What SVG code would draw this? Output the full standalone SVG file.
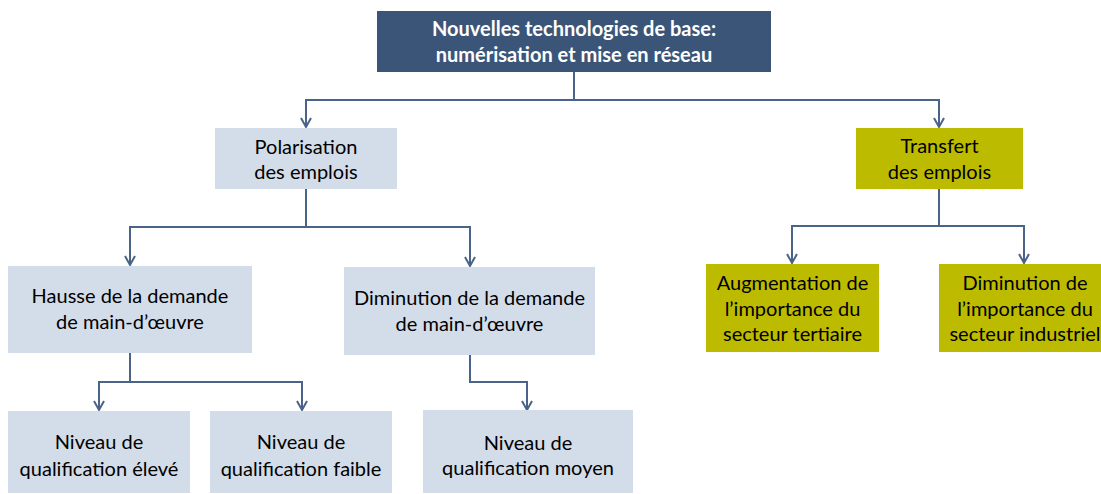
<svg xmlns="http://www.w3.org/2000/svg" width="1101" height="494" viewBox="0 0 1101 494">
<defs>
<style>
.t{font-family:Lato,"Liberation Sans",sans-serif;font-size:20px;fill:#000;text-anchor:middle}
.tb{font-family:Lato,"Liberation Sans",sans-serif;font-size:20px;font-weight:bold;fill:#fff;text-anchor:middle}
.dark{fill:#3B5579}
.light{fill:#D3DCE9}
.olive{fill:#BDBB00}
.c{fill:none;stroke:#4A6388;stroke-width:2;marker-end:url(#arr)}
</style>
<marker id="arr" markerUnits="userSpaceOnUse" viewBox="-12 -8 14 16" markerWidth="14" markerHeight="16" refX="0" refY="0" orient="auto" overflow="visible">
<path d="M-9,-5 L0,0 L-9,5" fill="none" stroke="#4A6388" stroke-width="2"/>
</marker>
</defs>
<rect width="1101" height="494" fill="#fff"/>
<g id="connectors">
<path class="c" d="M574,72 V100 H306 V127"/>
<path class="c" d="M574,100 H939 V127"/>
<path class="c" d="M306,189 V227 H130 V265"/>
<path class="c" d="M306,227 H470 V266"/>
<path class="c" d="M939,189 V226 H792 V263"/>
<path class="c" d="M939,226 H1024 V263"/>
<path class="c" d="M130,353 V382 H99 V410"/>
<path class="c" d="M130,382 H302 V410"/>
<path class="c" d="M470,355 V382 H527 V410"/>
</g>
<g id="n-top">
<rect class="dark" x="377" y="11" width="394" height="61"/>
<text class="tb" x="574" y="36">Nouvelles technologies de base:</text>
<text class="tb" x="574" y="62">numérisation et mise en réseau</text>
</g>
<g id="n-polarisation">
<rect class="light" x="215" y="128" width="182" height="61"/>
<text class="t" x="306" y="154">Polarisation</text>
<text class="t" x="306" y="179">des emplois</text>
</g>
<g id="n-transfert">
<rect class="olive" x="856" y="128" width="167" height="61"/>
<text class="t" x="939.5" y="153">Transfert</text>
<text class="t" x="939.5" y="179">des emplois</text>
</g>
<g id="n-hausse">
<rect class="light" x="8" y="266" width="244" height="87"/>
<text class="t" x="130" y="303">Hausse de la demande</text>
<text class="t" x="130" y="329">de main-d’œuvre</text>
</g>
<g id="n-diminution-demande">
<rect class="light" x="344" y="267" width="251" height="88"/>
<text class="t" x="469.5" y="305">Diminution de la demande</text>
<text class="t" x="469.5" y="331">de main-d’œuvre</text>
</g>
<g id="n-augmentation">
<rect class="olive" x="706" y="264" width="173" height="88"/>
<text class="t" x="792.5" y="290">Augmentation de</text>
<text class="t" x="792.5" y="316">l’importance du</text>
<text class="t" x="792.5" y="341">secteur tertiaire</text>
</g>
<g id="n-diminution-importance">
<rect class="olive" x="939" y="264" width="173" height="88"/>
<text class="t" x="1025" y="290">Diminution de</text>
<text class="t" x="1025" y="316">l’importance du</text>
<text class="t" x="1025" y="341">secteur industriel</text>
</g>
<g id="n-eleve">
<rect class="light" x="8" y="411" width="182" height="82"/>
<text class="t" x="99" y="449">Niveau de</text>
<text class="t" x="99" y="476">qualification élevé</text>
</g>
<g id="n-faible">
<rect class="light" x="210" y="411" width="182" height="82"/>
<text class="t" x="301" y="449">Niveau de</text>
<text class="t" x="301" y="476">qualification faible</text>
</g>
<g id="n-moyen">
<rect class="light" x="423" y="410" width="210" height="83"/>
<text class="t" x="528" y="450">Niveau de</text>
<text class="t" x="528" y="475">qualification moyen</text>
</g>
</svg>
